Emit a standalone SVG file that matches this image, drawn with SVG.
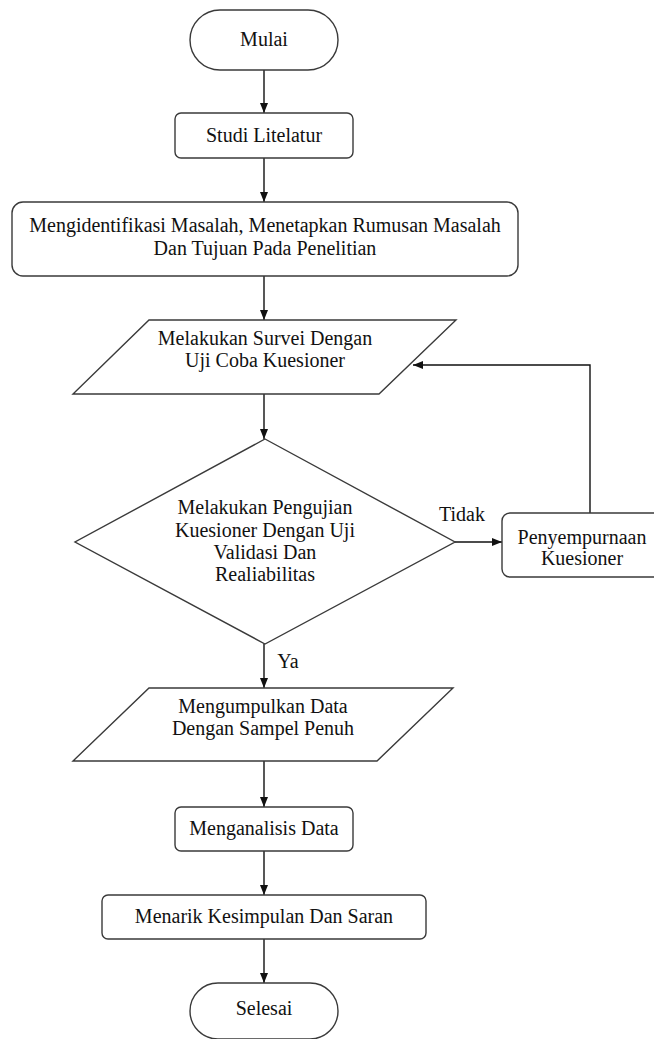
<svg xmlns="http://www.w3.org/2000/svg" width="654" height="1039" viewBox="0 0 654 1039">
<style>
.s{fill:#fff;stroke:#3a3a3a;stroke-width:1.4}
.t{font-family:'Liberation Serif','Times New Roman','DejaVu Serif',serif;font-size:20px;fill:#111;text-anchor:middle}
.c{fill:none;stroke:#111;stroke-width:1.4}
</style>
<defs>
<marker id="ah" viewBox="0 0 10 10" refX="10" refY="5" markerWidth="10" markerHeight="10" markerUnits="userSpaceOnUse" orient="auto">
<path d="M0,1 L10,5 L0,9 Z" fill="#111"/>
</marker>
</defs>
<rect width="654" height="1039" fill="#fff"/>
<g id="connectors">
<line class="c" x1="264" y1="70" x2="264" y2="113" marker-end="url(#ah)"/>
<line class="c" x1="264" y1="158" x2="264" y2="202" marker-end="url(#ah)"/>
<line class="c" x1="264" y1="276" x2="264" y2="320" marker-end="url(#ah)"/>
<line class="c" x1="264" y1="394" x2="264" y2="439" marker-end="url(#ah)"/>
<line class="c" x1="455" y1="542" x2="502" y2="542" marker-end="url(#ah)"/>
<polyline class="c" points="590,513 590,365 413,365" marker-end="url(#ah)"/>
<line class="c" x1="264" y1="644" x2="264" y2="688" marker-end="url(#ah)"/>
<line class="c" x1="264" y1="761" x2="264" y2="807" marker-end="url(#ah)"/>
<line class="c" x1="264" y1="851" x2="264" y2="895" marker-end="url(#ah)"/>
<line class="c" x1="264" y1="939" x2="264" y2="983" marker-end="url(#ah)"/>
<text class="t" x="462" y="521" font-family="Liberation Serif, serif">Tidak</text>
<text class="t" x="288" y="668" font-family="Liberation Serif, serif">Ya</text>
</g>
<g id="mulai">
<rect class="s" x="190" y="10" width="148" height="60" rx="30"/>
<text class="t" x="264" y="46">Mulai</text>
</g>
<g id="studi">
<rect class="s" x="175" y="113" width="178" height="45" rx="6"/>
<text class="t" x="264" y="142">Studi Litelatur</text>
</g>
<g id="identifikasi">
<rect class="s" x="12" y="202" width="506" height="74" rx="11"/>
<text class="t" x="265" y="232">Mengidentifikasi Masalah, Menetapkan Rumusan Masalah</text>
<text class="t" x="265" y="255">Dan Tujuan Pada Penelitian</text>
</g>
<g id="survei">
<polygon class="s" points="149,320 456,320 379,394 73,394"/>
<text class="t" x="265" y="345">Melakukan Survei Dengan</text>
<text class="t" x="265" y="367">Uji Coba Kuesioner</text>
</g>
<g id="pengujian">
<polygon class="s" points="265,439 455,542 265,644 75,542"/>
<text class="t" x="265" y="514">Melakukan Pengujian</text>
<text class="t" x="265" y="537">Kuesioner Dengan Uji</text>
<text class="t" x="265" y="559">Validasi Dan</text>
<text class="t" x="265" y="581">Realiabilitas</text>
</g>
<g id="penyempurnaan">
<rect class="s" x="502" y="513" width="160" height="64" rx="8"/>
<text class="t" x="582" y="544">Penyempurnaan</text>
<text class="t" x="582" y="565">Kuesioner</text>
</g>
<g id="pengumpulan">
<polygon class="s" points="149,688 453,688 377,761 73,761"/>
<text class="t" x="263" y="713">Mengumpulkan Data</text>
<text class="t" x="263" y="735">Dengan Sampel Penuh</text>
</g>
<g id="analisis">
<rect class="s" x="175" y="807" width="178" height="44" rx="6"/>
<text class="t" x="264" y="835">Menganalisis Data</text>
</g>
<g id="kesimpulan">
<rect class="s" x="102" y="895" width="324" height="44" rx="6"/>
<text class="t" x="264" y="923">Menarik Kesimpulan Dan Saran</text>
</g>
<g id="selesai">
<rect class="s" x="190" y="983" width="148" height="56" rx="28"/>
<text class="t" x="264" y="1015">Selesai</text>
</g>
</svg>
